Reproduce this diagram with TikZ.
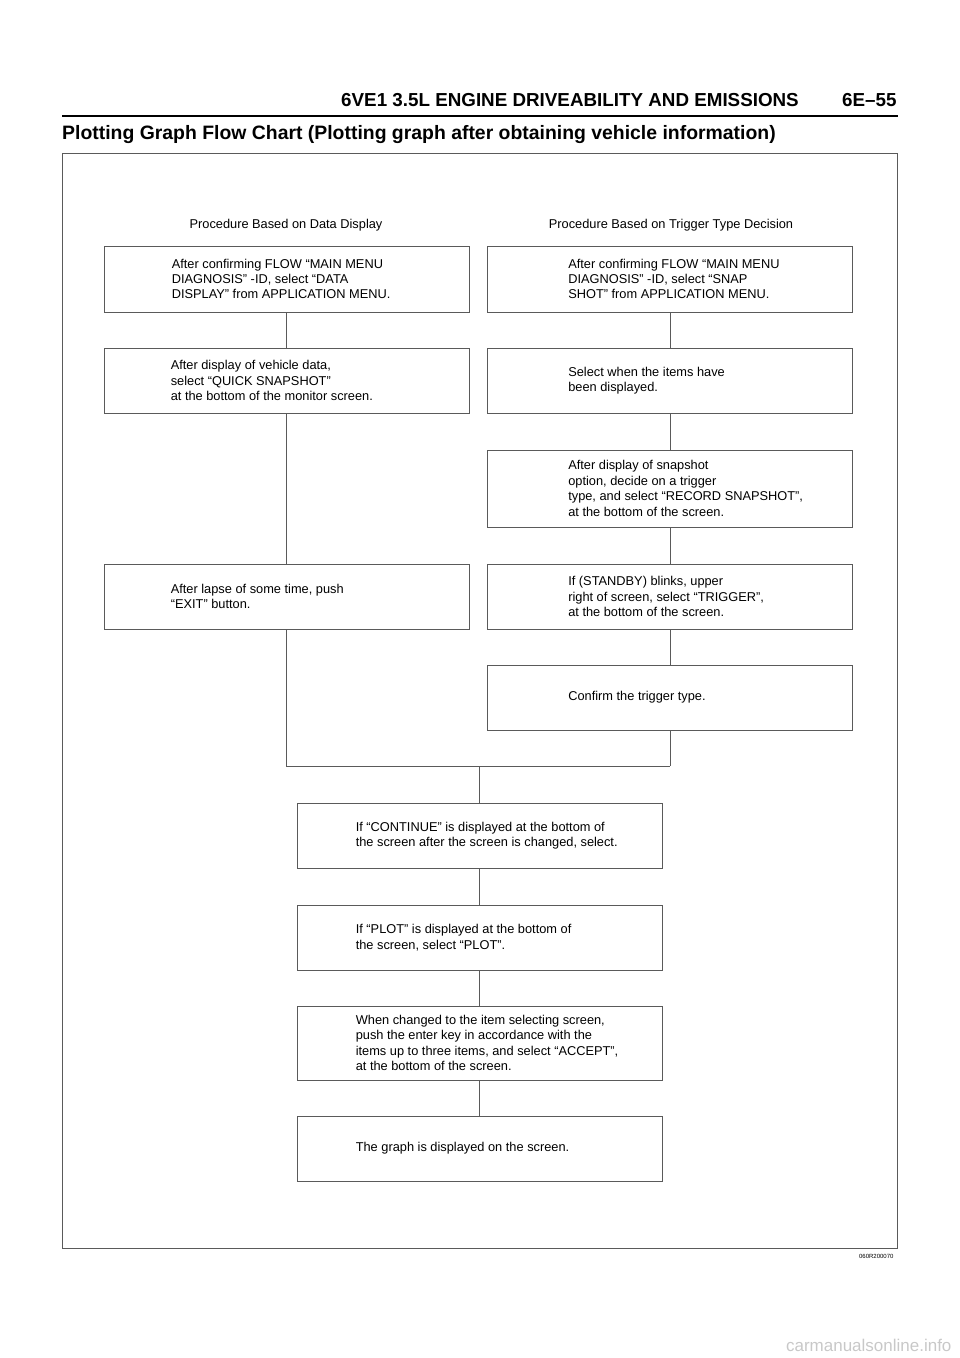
\documentclass[tikz,border=0pt]{standalone}
\usepackage{fontspec}
\setmainfont{Liberation Sans}
\definecolor{rulegray}{RGB}{90,90,90}
\definecolor{markgray}{RGB}{200,200,200}
\tikzset{
  box/.style={draw=rulegray, line width=0.8pt, minimum width=365pt, inner sep=0pt},
  txt/.style={anchor=west, align=left, inner sep=0pt, font=\fontsize{12.8}{15.4}\selectfont},
  link/.style={draw=rulegray, line width=0.8pt}
}
\begin{document}
\begin{tikzpicture}[x=1pt, y=-1pt]
\useasboundingbox (0,0) rectangle (960,1358);
% Header
\node[font=\bfseries\fontsize{18.8}{20}\selectfont] (head) at (570,100) {6VE1 3.5L ENGINE DRIVEABILITY AND EMISSIONS};
\node[font=\bfseries\fontsize{18.8}{20}\selectfont, anchor=east] (page) at (900,100) {6E--55};
\draw[line width=1.2pt] (62,116) -- (898,116);
\node[font=\bfseries\fontsize{19.4}{22}\selectfont, anchor=west, inner sep=0pt] (title) at (62,135) {Plotting Graph Flow Chart (Plotting graph after obtaining vehicle information)};
\draw[draw=rulegray, line width=0.6pt] (62,153) rectangle (897,1248);
\node[font=\fontsize{6}{7}\selectfont, anchor=east] (code) at (897,1256) {060R200070};
\node[font=\fontsize{17}{20}\selectfont, text=markgray, anchor=east] (mark) at (955,1345) {carmanualsonline.info};

% Column headings
\node[txt, anchor=center] (hl) at (286,225) {Procedure Based on Data Display};
\node[txt, anchor=center] (hr) at (671,225) {Procedure Based on Trigger Type Decision};

% Boxes
\node[box, minimum height=66pt] (l1) at (286.5,279) {};
\node[box, minimum height=65pt] (l2) at (286.5,380.5) {};
\node[box, minimum height=65pt] (l3) at (286.5,596.5) {};
\node[box, minimum height=66pt] (r1) at (670,279) {};
\node[box, minimum height=65pt] (r2) at (670,380.5) {};
\node[box, minimum height=77pt] (r3) at (670,488.5) {};
\node[box, minimum height=65pt] (r4) at (670,596.5) {};
\node[box, minimum height=65pt] (r5) at (670,697.5) {};
\node[box, minimum height=65pt] (c1) at (479.5,835.5) {};
\node[box, minimum height=65pt] (c2) at (479.5,937.5) {};
\node[box, minimum height=74pt] (c3) at (479.5,1043) {};
\node[box, minimum height=65pt] (c4) at (479.5,1148.5) {};

% Texts
\node[txt] (tl1) at ([xshift=68pt]l1.west) {After confirming FLOW “MAIN MENU\\DIAGNOSIS” -ID, select “DATA\\DISPLAY” from APPLICATION MENU.};
\node[txt] (tl2) at ([xshift=67pt]l2.west) {After display of vehicle data,\\select “QUICK SNAPSHOT”\\at the bottom of the monitor screen.};
\node[txt] (tl3) at ([xshift=67pt]l3.west) {After lapse of some time, push\\“EXIT” button.};
\node[txt] (tr1) at ([xshift=81pt]r1.west) {After confirming FLOW “MAIN MENU\\DIAGNOSIS” -ID, select “SNAP\\SHOT” from APPLICATION MENU.};
\node[txt] (tr2) at ([xshift=81pt]r2.west) {Select when the items have\\been displayed.};
\node[txt] (tr3) at ([xshift=81pt]r3.west) {After display of snapshot\\option, decide on a trigger\\type, and select “RECORD SNAPSHOT”,\\at the bottom of the screen.};
\node[txt] (tr4) at ([xshift=81pt]r4.west) {If (STANDBY) blinks, upper\\right of screen, select “TRIGGER”,\\at the bottom of the screen.};
\node[txt] (tr5) at ([xshift=81pt]r5.west) {Confirm the trigger type.};
\node[txt] (tc1) at ([xshift=59pt]c1.west) {If “CONTINUE” is displayed at the bottom of\\the screen after the screen is changed, select.};
\node[txt] (tc2) at ([xshift=59pt]c2.west) {If “PLOT” is displayed at the bottom of\\the screen, select “PLOT”.};
\node[txt] (tc3) at ([xshift=59pt]c3.west) {When changed to the item selecting screen,\\push the enter key in accordance with the\\items up to three items, and select “ACCEPT”,\\at the bottom of the screen.};
\node[txt] (tc4) at ([xshift=59pt]c4.west) {The graph is displayed on the screen.};

% Connectors
\coordinate (jl) at (286.5,766);
\coordinate (jr) at (670,766);
\coordinate (jc) at (479.5,766);
\draw[link] (l1) -- (l2);
\draw[link] (l2) -- (l3);
\draw[link] (l3) -- (jl) -- (jr);
\draw[link] (r1) -- (r2);
\draw[link] (r2) -- (r3);
\draw[link] (r3) -- (r4);
\draw[link] (r4) -- (r5);
\draw[link] (r5) -- (jr);
\draw[link] (jc) -- (c1);
\draw[link] (c1) -- (c2);
\draw[link] (c2) -- (c3);
\draw[link] (c3) -- (c4);
\end{tikzpicture}
\end{document}
